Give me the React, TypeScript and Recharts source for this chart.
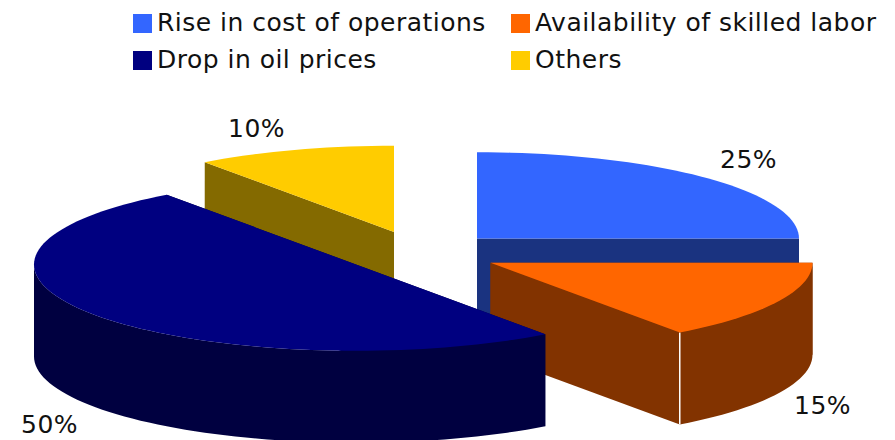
import React from 'react';
import { Legend, Pie, PieChart } from 'recharts';

// slice order starts at "Others" so the navy slice paints last, over its neighbours
const categories = ['Others', 'Rise in cost of operations', 'Availability of skilled labor', 'Drop in oil prices'];
const shares = [10, 25, 15, 50];
const topColors = ['#FFCC00', '#3366FF', '#FF6600', '#000080'];
const sideColors = ['#846A00', '#1A3380', '#823300', '#000040'];

const legendOrder = ['Rise in cost of operations', 'Availability of skilled labor', 'Drop in oil prices', 'Others'];
const legendSlots = [
  { x: 133, y: 14 },
  { x: 511, y: 14 },
  { x: 133, y: 51 },
  { x: 511, y: 51 },
];

// exploded centre of each slice and where its label sits
const sliceCenters = [
  { x: 394, y: 232 },
  { x: 477, y: 238.5 },
  { x: 490.5, y: 262.7 },
  { x: 356, y: 264.5 },
];
const labelSpots = [
  { x: 228, y: 137 },
  { x: 720, y: 168 },
  { x: 794, y: 414 },
  { x: 21, y: 433 },
];

const WIDTH = 895;
const HEIGHT = 440;
const RADIUS = 322;
const TILT = 0.268;
const DEPTH = 92;
const FONT = '"DejaVu Sans", Verdana, sans-serif';

const rows = categories.map((name, i) => ({ name, value: shares[i], fill: topColors[i] }));

function arcPoints(cx: number, cy: number, r: number, from: number, to: number) {
  const steps = Math.max(2, Math.ceil(Math.abs(to - from) / 2));
  const pts: Array<[number, number]> = [];
  for (let i = 0; i <= steps; i++) {
    const a = ((from + ((to - from) * i) / steps) * Math.PI) / 180;
    pts.push([cx + r * Math.cos(a), cy - r * TILT * Math.sin(a)]);
  }
  return pts;
}

const toPath = (pts: Array<[number, number]>) => pts.map((p) => `${p[0]},${p[1]}`).join(' ');

function Slice3D(props: any) {
  const { startAngle, endAngle, outerRadius, index, fill } = props;
  const c = sliceCenters[index];
  const side = sideColors[index];
  const arc = arcPoints(c.x, c.y, outerRadius, startAngle, endAngle);

  // outer wall only shows on the front half of the ellipse
  const wallFrom = Math.min(startAngle, 0);
  const wallTo = Math.max(endAngle, -180);
  const hasWall = wallFrom > wallTo;
  const wallTop = hasWall ? arcPoints(c.x, c.y, outerRadius, wallFrom, wallTo) : [];
  const wallBottom = wallTop.map((p) => [p[0], p[1] + DEPTH] as [number, number]).reverse();

  const first = arc[0];
  const last = arc[arc.length - 1];
  const cutFace = (p: [number, number]) =>
    toPath([[c.x, c.y], p, [p[0], p[1] + DEPTH], [c.x, c.y + DEPTH]]);

  return (
    <g>
      <polygon points={cutFace(first)} fill={side} />
      <polygon points={cutFace(last)} fill={side} />
      {hasWall && <polygon points={toPath([...wallTop, ...wallBottom])} fill={side} />}
      {/* the white seam between the orange cut face and its wall */}
      {index === 2 && (
        <line x1={last[0]} y1={last[1]} x2={last[0]} y2={last[1] + DEPTH} stroke="#fff" strokeWidth={1.5} />
      )}
      <polygon points={toPath([[c.x, c.y], ...arc])} fill={fill} />
    </g>
  );
}

function renderLabel(props: any) {
  const spot = labelSpots[props.index];
  return (
    <text x={spot.x} y={spot.y} fill="#111" fontSize={25} letterSpacing={0.5} fontFamily={FONT} textAnchor="start">
      {`${props.value}%`}
    </text>
  );
}

function LegendBox({ payload }: any) {
  const items = payload || [];
  return (
    <div style={{ position: 'relative', width: WIDTH, height: 80 }}>
      {legendOrder.map((name, i) => {
        const item = items.find((entry: any) => entry.value === name);
        return (
          <div key={name} style={{ position: 'absolute', left: legendSlots[i].x, top: legendSlots[i].y, height: 19 }}>
            <span
              style={{
                position: 'absolute',
                left: 0,
                top: 0,
                width: 19,
                height: 19,
                backgroundColor: item ? item.color : topColors[categories.indexOf(name)],
              }}
            />
            <span
              style={{
                position: 'absolute',
                left: 24,
                top: -5,
                fontFamily: FONT,
                fontSize: 25,
                letterSpacing: 0.48,
                lineHeight: '28px',
                color: '#111',
                whiteSpace: 'nowrap',
              }}
            >
              {name}
            </span>
          </div>
        );
      })}
    </div>
  );
}

export default function App() {
  return (
    <div style={{ position: 'absolute', left: 0, top: 0, width: WIDTH, height: HEIGHT, overflow: 'hidden', background: '#fff' }}>
      <PieChart width={WIDTH} height={HEIGHT} margin={{ top: 0, right: 0, bottom: 0, left: 0 }}>
        <Legend
          content={<LegendBox />}
          verticalAlign="top"
          wrapperStyle={{ position: 'absolute', left: 0, top: 0, width: WIDTH }}
        />
        <Pie
          data={rows}
          dataKey="value"
          nameKey="name"
          cx={430}
          cy={250}
          innerRadius={0}
          outerRadius={RADIUS}
          startAngle={126}
          endAngle={-234}
          stroke="none"
          shape={Slice3D}
          label={renderLabel}
          labelLine={false}
          isAnimationActive={false}
        />
      </PieChart>
    </div>
  );
}
